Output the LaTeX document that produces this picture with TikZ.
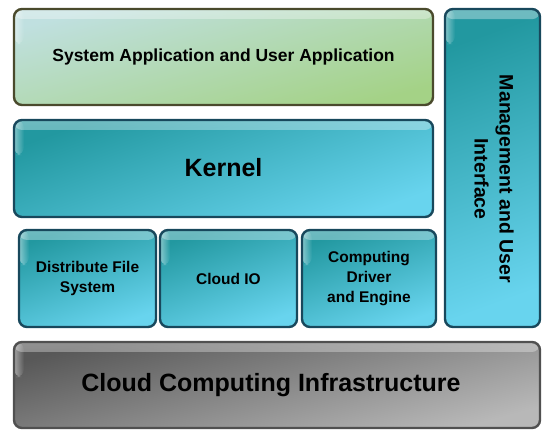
\documentclass[tikz,border=0pt]{standalone}
\usepackage{fontspec}
\setmainfont{Liberation Sans}
\usetikzlibrary{fadings}
\definecolor{greenA}{HTML}{C0E0E0}
\definecolor{greenB}{HTML}{A4D286}
\definecolor{greenE}{HTML}{4A4A2C}
\definecolor{tealA}{HTML}{2298A0}
\definecolor{tealB}{HTML}{68D4EE}
\definecolor{tealE}{HTML}{18485C}
\definecolor{grayA}{HTML}{585858}
\definecolor{grayB}{HTML}{B8B8B8}
\definecolor{grayE}{HTML}{505050}
\tikzset{
  layer/.style={rounded corners=8pt, line width=2.4pt, inner sep=0pt, align=center,
    font=\bfseries, text=black,
    path picture={\fill[white,path fading=south,opacity=0.35]
      (path picture bounding box.north west) rectangle ([yshift=-10pt]path picture bounding box.north east);
      \fill[white,path fading=east,opacity=0.45]
      (path picture bounding box.north west) rectangle ([xshift=10pt,yshift=-35pt]path picture bounding box.north west);}},
  greenbox/.style={layer, draw=greenE, top color=greenA, bottom color=greenB, shading angle=15},
  tealbox/.style={layer, draw=tealE, top color=tealA, bottom color=tealB, shading angle=20},
  graybox/.style={layer, draw=grayE, top color=grayA, bottom color=grayB, shading angle=15},
  smalltext/.style={font=\bfseries\fontsize{15.5}{20}\selectfont},
}
\begin{document}
\begin{tikzpicture}[x=1pt,y=-1pt]
\useasboundingbox (0,0) rectangle (542,437);
\node[greenbox, minimum width=419pt, minimum height=96pt, font=\bfseries\fontsize{17.5}{20}\selectfont] (app) at (223.5,57) {\raisebox{2pt}{System Application and User Application}};
\node[tealbox, minimum width=419pt, minimum height=97pt, font=\bfseries\fontsize{25}{28}\selectfont] (kernel) at (223.5,168.5) {\raisebox{3pt}{Kernel}};
\node[tealbox, minimum width=137pt, minimum height=97pt, smalltext] (dfs) at (87.5,278.5) {Distribute File\\System};
\node[tealbox, minimum width=137pt, minimum height=97pt, smalltext] (cio) at (228.5,278.5) {Cloud IO};
\node[tealbox, minimum width=134pt, minimum height=97pt, smalltext] (cde) at (369,278.5) {Computing\\Driver\\and Engine};
\node[tealbox, minimum width=95pt, minimum height=318pt] (mui) at (492.5,168) {};
\node[font=\bfseries\fontsize{19.5}{25}\selectfont, align=center, rotate=-90] (muit) at (494,179) {Management and User\\Interface};
\node[graybox, minimum width=526pt, minimum height=86pt, font=\bfseries\fontsize{25}{28}\selectfont] (infra) at (277,385) {\hspace*{-12pt}\raisebox{-3pt}{Cloud Computing Infrastructure}};
\end{tikzpicture}
\end{document}
